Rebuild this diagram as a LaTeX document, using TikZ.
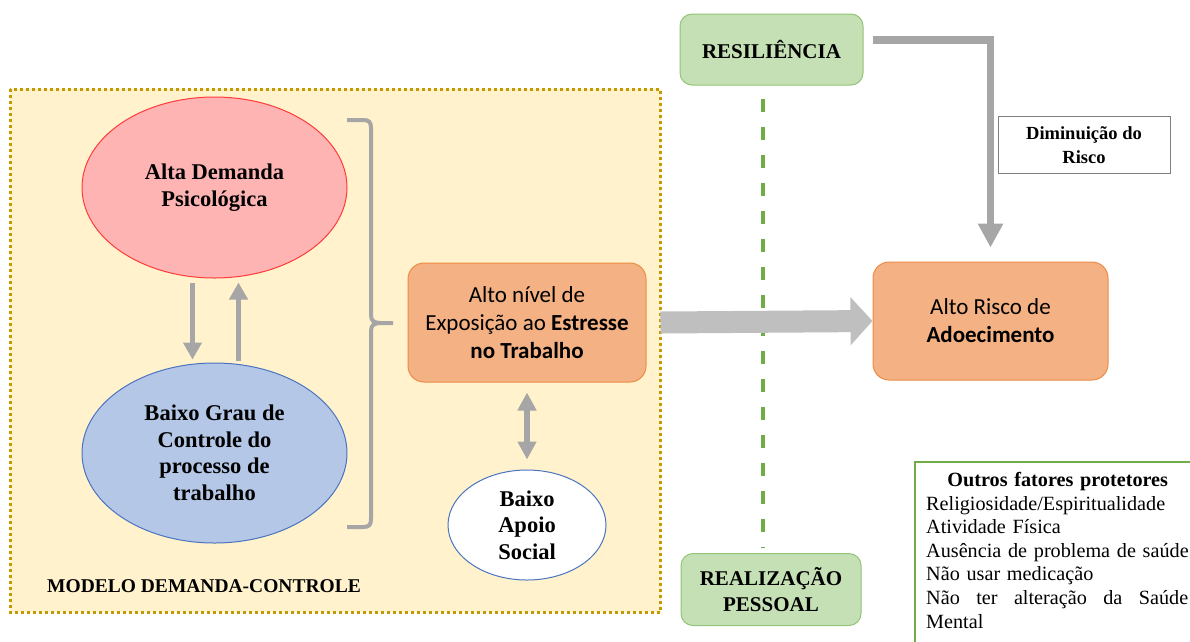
\documentclass[tikz,border=0pt]{standalone}
\usepackage{fontspec}
\setmainfont{Liberation Serif}
\newfontfamily\calibri{Carlito}
\usetikzlibrary{arrows.meta,shapes.geometric}

\definecolor{panelfill}{HTML}{FFF2CC}
\definecolor{panelline}{HTML}{C49A00}
\definecolor{demfill}{HTML}{FFB4B4}
\definecolor{demline}{HTML}{FF3B3B}
\definecolor{ctlfill}{HTML}{B4C7E7}
\definecolor{ctlline}{HTML}{4A74C0}
\definecolor{orangefill}{HTML}{F4B183}
\definecolor{orangeline}{HTML}{ED8B45}
\definecolor{greenfill}{HTML}{C5E0B4}
\definecolor{greenline}{HTML}{93C477}
\definecolor{dashgreen}{HTML}{70AD47}
\definecolor{arrowgray}{HTML}{A6A6A6}
\definecolor{biggray}{HTML}{BFBFBF}
\definecolor{framegray}{HTML}{7F7F7F}

\begin{document}
\begin{tikzpicture}[x=1pt,y=-1pt,
  oval/.style={ellipse, draw, line width=1pt, inner sep=0pt, align=center,
    font=\fontsize{22.5}{26.5}\selectfont\bfseries},
  calbox/.style={rectangle, rounded corners=16pt, draw=orangeline, fill=orangefill,
    line width=1pt, inner sep=0pt, align=center, font=\calibri\fontsize{23}{28}\selectfont},
  greenbox/.style={rectangle, rounded corners=12pt, draw=greenline, fill=greenfill,
    line width=1pt, inner sep=0pt, align=center, font=\fontsize{21}{26}\selectfont\bfseries},
  grayarrow/.style={draw=arrowgray, line width=5pt, -{Triangle[width=18pt,length=17pt]}},
  bracestroke/.style={draw=arrowgray, line width=4pt},
]
\useasboundingbox (0,0) rectangle (1190,641);

% Demand-control model panel
\draw[fill=panelfill, draw=panelline, line width=3pt, dash pattern=on 3pt off 3pt]
  (10,89) rectangle (660.5,612);

\node[oval, fill=demfill, draw=demline, minimum width=265pt, minimum height=181pt]
  (dem) at (214.5,187.5) {Alta Demanda\\Psicológica};
\node[oval, fill=ctlfill, draw=ctlline, minimum width=265pt, minimum height=180pt]
  (ctl) at (214.5,453) {Baixo Grau de\\Controle do\\processo de\\trabalho};

\draw[grayarrow] ([xshift=-22pt,yshift=-4pt]dem.south) -- ([xshift=-22pt,yshift=3pt]ctl.north);
\draw[grayarrow] ([xshift=24pt,yshift=2pt]ctl.north) -- ([xshift=24pt,yshift=-4pt]dem.south);

% Brace grouping demand and control
\draw[bracestroke] (347,120) -- (363,120) .. controls (369,120) and (371,122) .. (371,128)
  -- (371,315) .. controls (371,321) and (374,323) .. (381,323) -- (393,323);
\draw[bracestroke] (381,323) .. controls (374,323) and (371,325) .. (371,331)
  -- (371,519) .. controls (371,525) and (369,527) .. (363,527) -- (347,527);

\node[calbox, minimum width=238pt, minimum height=119pt] (stress) at (527,322.5)
  {Alto nível de\\Exposição ao \textbf{Estresse}\\\textbf{no Trabalho}};

\node[oval, fill=white, draw=ctlline, minimum width=158pt, minimum height=110pt]
  (apoio) at (527,525) {Baixo\\Apoio\\Social};

\draw[draw=arrowgray, line width=6pt,
  {Triangle[width=18pt,length=18pt]}-{Triangle[width=18pt,length=18pt]}]
  ([yshift=-10pt]stress.south) -- ([yshift=10pt]apoio.north);

\node[anchor=west, inner sep=0pt, font=\fontsize{19.5}{22}\selectfont\bfseries]
  (modelo) at (47,586) {MODELO DEMANDA-CONTROLE};

% Outcome and protective factors
\node[calbox, minimum width=235pt, minimum height=118pt] (risk) at (990.5,321)
  {Alto Risco de\\\textbf{Adoecimento}};

\node[greenbox, minimum width=183pt, minimum height=71pt] (res) at (771.5,49.5) {RESILIÊNCIA};
\node[greenbox, minimum width=180pt, minimum height=72pt] (real) at (771,589.5)
  {REALIZAÇÃO\\PESSOAL};

\draw[draw=dashgreen, line width=4pt, dash pattern=on 13.5pt off 14.5pt,
  shorten <=13pt, shorten >=5pt]
  ([xshift=-8.5pt]res.south) -- ([xshift=-8pt]real.north);

\draw[draw=biggray, line width=22pt, -{Triangle[width=47pt,length=22pt]}]
  ([xshift=14pt]stress.east) -- (risk.west);

\draw[draw=arrowgray, line width=7.5pt, -{Triangle[width=24pt,length=24pt]}]
  ([xshift=9pt,yshift=9.5pt]res.east) -| ([yshift=14pt]risk.north);

\node[draw=framegray, fill=white, line width=1pt, minimum width=172pt, minimum height=57pt,
  inner sep=0pt, align=center, font=\fontsize{18.5}{24}\selectfont\bfseries]
  (dimin) at (1084,145) {Diminuição do\\Risco};

\node[anchor=north west, inner xsep=11pt, inner ysep=10pt, text width=290pt, align=left,
  font=\fontsize{20.2}{23.6}\selectfont] (outros) at (915,462)
  {\makebox[263pt]{\textbf{Outros fatores protetores}}\\
   Religiosidade/Espiritualidade\\
   Atividade Física\\
   Ausência de problema de saúde\\
   Não usar medicação\\
   \makebox[262pt][l]{Não\hfill ter\hfill alteração\hfill da\hfill Saúde}\\
   Mental};
\draw[draw=dashgreen, line width=2pt]
  (outros.north west) rectangle ([yshift=-30pt]outros.south east);
\end{tikzpicture}
\end{document}
